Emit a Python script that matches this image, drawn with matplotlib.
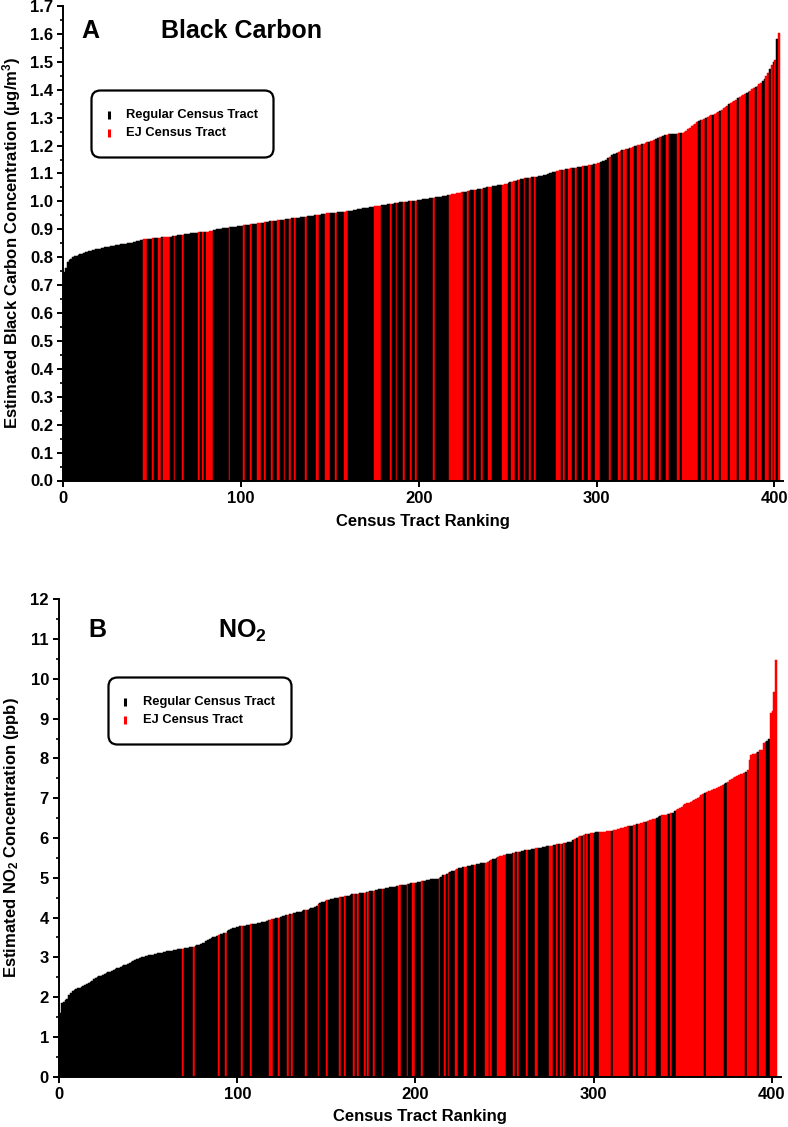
import matplotlib
matplotlib.use("Agg")
import matplotlib.pyplot as plt
from matplotlib.patches import FancyBboxPatch
from matplotlib.ticker import MultipleLocator, FormatStrFormatter

plt.rcParams['font.family'] = ['Liberation Sans', 'DejaVu Sans']
plt.rcParams['font.weight'] = 'bold'
plt.rcParams['mathtext.fontset'] = 'custom'
plt.rcParams['mathtext.rm'] = 'Liberation Sans:bold'
plt.rcParams['mathtext.bf'] = 'Liberation Sans:bold'
plt.rcParams['mathtext.it'] = 'Liberation Sans:bold'

# ---------------- data ----------------
bc_values = [
    0.748, 0.760, 0.783, 0.790, 0.795, 0.800, 0.803, 0.806, 0.808, 0.811,
    0.813, 0.815, 0.817, 0.820, 0.822, 0.823, 0.825, 0.826, 0.828, 0.829,
    0.830, 0.832, 0.833, 0.835, 0.836, 0.838, 0.840, 0.840, 0.841, 0.842,
    0.843, 0.845, 0.846, 0.847, 0.848, 0.849, 0.850, 0.851, 0.852, 0.853,
    0.855, 0.857, 0.859, 0.861, 0.863, 0.864, 0.865, 0.866, 0.866, 0.867,
    0.868, 0.868, 0.869, 0.870, 0.870, 0.871, 0.872, 0.872, 0.873, 0.874,
    0.874, 0.875, 0.876, 0.877, 0.878, 0.879, 0.880, 0.881, 0.882, 0.883,
    0.884, 0.885, 0.886, 0.887, 0.888, 0.888, 0.889, 0.889, 0.890, 0.891,
    0.891, 0.892, 0.893, 0.894, 0.896, 0.898, 0.900, 0.901, 0.902, 0.903,
    0.904, 0.905, 0.906, 0.907, 0.908, 0.908, 0.909, 0.910, 0.911, 0.912,
    0.913, 0.914, 0.915, 0.916, 0.917, 0.918, 0.919, 0.920, 0.920, 0.921,
    0.922, 0.923, 0.924, 0.925, 0.926, 0.927, 0.928, 0.929, 0.930, 0.931,
    0.932, 0.933, 0.934, 0.934, 0.935, 0.936, 0.937, 0.938, 0.939, 0.940,
    0.940, 0.941, 0.942, 0.943, 0.944, 0.944, 0.945, 0.946, 0.947, 0.948,
    0.949, 0.950, 0.951, 0.952, 0.953, 0.954, 0.955, 0.956, 0.957, 0.958,
    0.959, 0.959, 0.960, 0.960, 0.961, 0.961, 0.962, 0.962, 0.963, 0.964,
    0.965, 0.966, 0.967, 0.968, 0.969, 0.971, 0.972, 0.973, 0.975, 0.976,
    0.977, 0.978, 0.979, 0.980, 0.981, 0.982, 0.983, 0.984, 0.985, 0.986,
    0.987, 0.988, 0.989, 0.990, 0.991, 0.992, 0.993, 0.994, 0.995, 0.996,
    0.997, 0.997, 0.998, 0.999, 1.000, 1.000, 1.001, 1.002, 1.003, 1.004,
    1.005, 1.006, 1.007, 1.008, 1.009, 1.010, 1.011, 1.012, 1.013, 1.014,
    1.015, 1.016, 1.017, 1.018, 1.019, 1.020, 1.022, 1.024, 1.026, 1.027,
    1.028, 1.029, 1.030, 1.031, 1.032, 1.034, 1.035, 1.036, 1.037, 1.039,
    1.040, 1.041, 1.042, 1.043, 1.045, 1.046, 1.047, 1.048, 1.050, 1.052,
    1.053, 1.054, 1.055, 1.056, 1.057, 1.058, 1.059, 1.060, 1.062, 1.064,
    1.066, 1.068, 1.070, 1.072, 1.074, 1.076, 1.078, 1.080, 1.081, 1.082,
    1.083, 1.084, 1.085, 1.086, 1.087, 1.088, 1.089, 1.090, 1.091, 1.092,
    1.094, 1.096, 1.098, 1.100, 1.102, 1.104, 1.106, 1.108, 1.110, 1.112,
    1.113, 1.114, 1.115, 1.116, 1.117, 1.118, 1.119, 1.120, 1.121, 1.122,
    1.123, 1.124, 1.125, 1.126, 1.128, 1.130, 1.131, 1.132, 1.133, 1.135,
    1.136, 1.138, 1.140, 1.143, 1.146, 1.150, 1.155, 1.160, 1.165, 1.168,
    1.170, 1.175, 1.178, 1.180, 1.183, 1.185, 1.187, 1.189, 1.191, 1.193,
    1.195, 1.197, 1.199, 1.201, 1.203, 1.205, 1.207, 1.209, 1.211, 1.213,
    1.215, 1.218, 1.221, 1.224, 1.227, 1.230, 1.232, 1.235, 1.237, 1.239,
    1.240, 1.241, 1.242, 1.242, 1.243, 1.243, 1.244, 1.244, 1.245, 1.247,
    1.252, 1.258, 1.264, 1.270, 1.275, 1.278, 1.283, 1.287, 1.290, 1.293,
    1.296, 1.299, 1.302, 1.305, 1.308, 1.311, 1.314, 1.317, 1.321, 1.325,
    1.328, 1.333, 1.338, 1.343, 1.348, 1.352, 1.356, 1.360, 1.365, 1.370,
    1.374, 1.378, 1.381, 1.385, 1.389, 1.393, 1.397, 1.401, 1.405, 1.410,
    1.415, 1.420, 1.425, 1.432, 1.440, 1.450, 1.460, 1.475, 1.490, 1.500,
    1.507, 1.580, 1.603,
]

bc_ej_ranks = [
    45, 46, 50, 53, 54, 56, 57, 58, 59, 62, 67, 76, 78, 80, 81, 82, 83, 93,
    101, 105, 109, 110, 113, 117, 120, 121, 124, 127, 130, 136, 142, 143,
    147, 148, 149, 153, 158, 159, 175, 176, 177, 178, 184, 187, 191, 195,
    198, 208, 217, 218, 219, 220, 221, 222, 223, 224, 227, 231, 235, 239,
    240, 247, 248, 249, 252, 253, 256, 259, 262, 265, 277, 278, 279, 281,
    284, 285, 288, 292, 295, 296, 299, 300, 301, 307, 312, 313, 315, 316,
    319, 320, 323, 324, 326, 327, 328, 330, 331, 332, 335, 339, 340, 345,
    346, 348, 349, 350, 351, 352, 353, 354, 355, 356, 359, 360, 362, 363,
    364, 366, 367, 368, 370, 371, 372, 373, 375, 376, 377, 378, 380, 381,
    382, 383, 386, 387, 388, 390, 391, 392, 395, 396, 398, 400, 402,
]

no2_values = [
    1.60, 1.84, 1.88, 1.92, 1.95, 2.05, 2.10, 2.16, 2.18, 2.20,
    2.22, 2.24, 2.26, 2.28, 2.30, 2.33, 2.35, 2.37, 2.40, 2.45,
    2.48, 2.50, 2.52, 2.54, 2.56, 2.58, 2.60, 2.62, 2.64, 2.66,
    2.68, 2.70, 2.72, 2.74, 2.76, 2.78, 2.80, 2.82, 2.84, 2.87,
    2.89, 2.91, 2.93, 2.95, 2.97, 2.98, 3.00, 3.02, 3.03, 3.04,
    3.05, 3.06, 3.07, 3.08, 3.09, 3.10, 3.11, 3.12, 3.13, 3.14,
    3.15, 3.16, 3.16, 3.17, 3.18, 3.19, 3.20, 3.20, 3.21, 3.22,
    3.23, 3.24, 3.24, 3.25, 3.26, 3.27, 3.28, 3.30, 3.31, 3.33,
    3.35, 3.37, 3.40, 3.43, 3.46, 3.48, 3.50, 3.52, 3.54, 3.56,
    3.58, 3.59, 3.60, 3.62, 3.65, 3.68, 3.72, 3.74, 3.75, 3.76,
    3.77, 3.78, 3.78, 3.79, 3.80, 3.81, 3.82, 3.83, 3.84, 3.84,
    3.85, 3.86, 3.87, 3.88, 3.89, 3.90, 3.92, 3.93, 3.95, 3.96,
    3.97, 3.98, 3.99, 4.00, 4.02, 4.03, 4.04, 4.06, 4.07, 4.08,
    4.10, 4.11, 4.12, 4.13, 4.14, 4.15, 4.17, 4.18, 4.19, 4.20,
    4.22, 4.23, 4.25, 4.27, 4.30, 4.33, 4.36, 4.38, 4.40, 4.42,
    4.44, 4.45, 4.46, 4.47, 4.48, 4.49, 4.50, 4.51, 4.51, 4.52,
    4.53, 4.54, 4.55, 4.57, 4.58, 4.59, 4.60, 4.60, 4.61, 4.62,
    4.63, 4.63, 4.64, 4.65, 4.66, 4.67, 4.68, 4.69, 4.70, 4.71,
    4.72, 4.72, 4.73, 4.74, 4.75, 4.76, 4.77, 4.78, 4.78, 4.79,
    4.80, 4.81, 4.82, 4.82, 4.83, 4.84, 4.85, 4.86, 4.87, 4.87,
    4.88, 4.89, 4.90, 4.91, 4.92, 4.93, 4.94, 4.95, 4.96, 4.97,
    4.97, 4.98, 4.98, 5.00, 5.03, 5.06, 5.08, 5.10, 5.12, 5.14,
    5.16, 5.18, 5.20, 5.22, 5.24, 5.25, 5.26, 5.27, 5.28, 5.29,
    5.30, 5.31, 5.32, 5.33, 5.34, 5.35, 5.36, 5.36, 5.37, 5.38,
    5.40, 5.42, 5.44, 5.46, 5.48, 5.50, 5.52, 5.54, 5.56, 5.57,
    5.58, 5.59, 5.60, 5.61, 5.62, 5.63, 5.64, 5.65, 5.66, 5.67,
    5.68, 5.69, 5.70, 5.70, 5.71, 5.72, 5.73, 5.74, 5.75, 5.75,
    5.76, 5.77, 5.78, 5.79, 5.80, 5.80, 5.81, 5.82, 5.83, 5.84,
    5.85, 5.86, 5.86, 5.87, 5.88, 5.89, 5.90, 5.91, 5.94, 5.97,
    6.00, 6.02, 6.04, 6.06, 6.08, 6.09, 6.10, 6.11, 6.12, 6.12,
    6.13, 6.14, 6.14, 6.15, 6.15, 6.16, 6.16, 6.17, 6.17, 6.18,
    6.18, 6.19, 6.20, 6.22, 6.23, 6.24, 6.25, 6.27, 6.28, 6.29,
    6.30, 6.31, 6.32, 6.33, 6.34, 6.35, 6.37, 6.38, 6.40, 6.41,
    6.43, 6.44, 6.45, 6.47, 6.49, 6.51, 6.53, 6.55, 6.57, 6.58,
    6.59, 6.60, 6.61, 6.62, 6.64, 6.67, 6.70, 6.73, 6.76, 6.79,
    6.82, 6.85, 6.87, 6.89, 6.91, 6.93, 6.95, 6.98, 7.01, 7.04,
    7.07, 7.10, 7.13, 7.16, 7.18, 7.19, 7.20, 7.22, 7.24, 7.26,
    7.28, 7.30, 7.33, 7.36, 7.39, 7.42, 7.45, 7.48, 7.51, 7.54,
    7.56, 7.58, 7.60, 7.62, 7.64, 7.66, 7.70, 7.95, 8.08, 8.10,
    8.12, 8.14, 8.15, 8.20, 8.22, 8.40, 8.42, 8.45, 8.48, 9.13,
    9.18, 9.67, 10.47,
]

no2_ej_ranks = [
    69, 75, 89, 93, 102, 107, 118, 119, 123, 128, 130, 138, 145, 150, 157,
    160, 165, 167, 171, 173, 176, 181, 190, 191, 195, 198, 199, 203, 213,
    216, 218, 222, 223, 227, 228, 233, 239, 240, 242, 246, 247, 248, 249,
    250, 255, 257, 262, 267, 268, 275, 276, 279, 281, 283, 289, 291, 292,
    294, 296, 298, 299, 303, 304, 305, 306, 307, 308, 309, 311, 312, 313,
    314, 315, 316, 317, 318, 319, 322, 323, 325, 326, 327, 328, 330, 331,
    332, 333, 334, 338, 339, 340, 341, 343, 346, 347, 348, 349, 350, 351,
    352, 353, 354, 355, 356, 357, 358, 359, 360, 361, 363, 364, 365, 366,
    367, 368, 369, 370, 371, 372, 375, 376, 377, 378, 379, 380, 381, 382,
    383, 384, 386, 387, 388, 389, 390, 391, 393, 394, 395, 396, 399, 400,
    401, 402,
]

x_ticks = [0, 100, 200, 300, 400]
legend_labels = ["Regular Census Tract", "EJ Census Tract"]
REG_COLOR = "#000000"
EJ_COLOR = "#ff0000"

# ---------------- figure ----------------
W, H = 788, 1127
fig = plt.figure(figsize=(W / 100, H / 100), dpi=100)


def fig_rect(x0, y_top, x1, y_bot):
    return [x0 / W, 1 - y_bot / H, (x1 - x0) / W, (y_bot - y_top) / H]


def style_axes(ax):
    for s in ("top", "right"):
        ax.spines[s].set_visible(False)
    for s in ("left", "bottom"):
        ax.spines[s].set_linewidth(1.4)
    ax.tick_params(axis="both", which="major", direction="out", length=4.5,
                   width=1.4, labelsize=12, pad=3)
    ax.tick_params(axis="y", which="minor", direction="out", length=2.5,
                   width=1.2)
    for lab in ax.get_xticklabels() + ax.get_yticklabels():
        lab.set_fontweight("bold")


def draw_bars(ax, values, ej_ranks):
    ej = set(ej_ranks)
    xs = list(range(len(values)))
    cols = [EJ_COLOR if i in ej else REG_COLOR for i in xs]
    ax.bar(xs, values, width=1.0, align="edge", color=cols, edgecolor=cols,
           linewidth=0.35)


def draw_legend(rect):
    lax = fig.add_axes(fig_rect(*rect))
    wpx = rect[2] - rect[0]
    hpx = rect[3] - rect[1]
    lax.set_xlim(0, wpx)
    lax.set_ylim(hpx, 0)
    lax.axis("off")
    box = FancyBboxPatch((1.5, 1.5), wpx - 3, hpx - 3,
                         boxstyle="round,pad=0,rounding_size=9",
                         facecolor="white", edgecolor="black", linewidth=1.6,
                         mutation_aspect=1)
    lax.add_patch(box)
    rows = [hpx / 2 - 9, hpx / 2 + 9]
    for (yy, lab, c) in zip(rows, legend_labels, [REG_COLOR, EJ_COLOR]):
        lax.plot([18.5, 18.5], [yy - 4, yy + 4], color=c, linewidth=2.2,
                 solid_capstyle="butt")
        lax.text(36, yy, lab, fontsize=9.3, fontweight="bold",
                 va="center", ha="left")


# ---- Panel A ----
axA = fig.add_axes(fig_rect(63.3, 6.0, 783.2, 480.5))
draw_bars(axA, bc_values, bc_ej_ranks)
axA.set_xlim(0, 405)
axA.set_ylim(0, 1.7)
axA.set_xticks(x_ticks)
axA.yaxis.set_major_locator(MultipleLocator(0.1))
axA.yaxis.set_minor_locator(MultipleLocator(0.05))
axA.yaxis.set_major_formatter(FormatStrFormatter("%.1f"))
style_axes(axA)
axA.set_xlabel("Census Tract Ranking", fontsize=12, fontweight="bold")
axA.xaxis.label.set_va("center")
axA.xaxis.set_label_coords(0.5, -41.0 / 474.5)
axA.set_ylabel("Estimated Black Carbon Concentration (\u03bcg/m$^{3}$)",
               fontsize=12, fontweight="bold")
axA.yaxis.label.set_va("center")
axA.yaxis.set_label_coords(-51.5 / 719.9, 0.5)
fig.text(81.5 / W, 1 - 38.3 / H, "A", fontsize=18, fontweight="bold",
         va="baseline", ha="left")
fig.text(161 / W, 1 - 38.3 / H, "Black Carbon", fontsize=18,
         fontweight="bold", va="baseline", ha="left")
draw_legend((90, 89, 275, 159))

# ---- Panel B ----
axB = fig.add_axes(fig_rect(59.3, 599.3, 780.6, 1076.7))
draw_bars(axB, no2_values, no2_ej_ranks)
axB.set_xlim(0, 405)
axB.set_ylim(0, 12)
axB.set_xticks(x_ticks)
axB.yaxis.set_major_locator(MultipleLocator(1))
axB.yaxis.set_minor_locator(MultipleLocator(0.5))
style_axes(axB)
axB.set_xlabel("Census Tract Ranking", fontsize=12, fontweight="bold")
axB.xaxis.label.set_va("center")
axB.xaxis.set_label_coords(0.5, -39.3 / 477.4)
axB.set_ylabel("Estimated NO$_{2}$ Concentration (ppb)", fontsize=12,
               fontweight="bold")
axB.yaxis.label.set_va("center")
axB.yaxis.set_label_coords(-47.5 / 721.3, 0.5)
fig.text(88 / W, 1 - 637.3 / H, "B", fontsize=18, fontweight="bold",
         va="baseline", ha="left")
fig.text(218 / W, 1 - 637.3 / H, "NO$_{2}$", fontsize=18, fontweight="bold",
         va="baseline", ha="left")
draw_legend((107, 676, 293, 746))

fig.savefig("out.png", dpi=100)
